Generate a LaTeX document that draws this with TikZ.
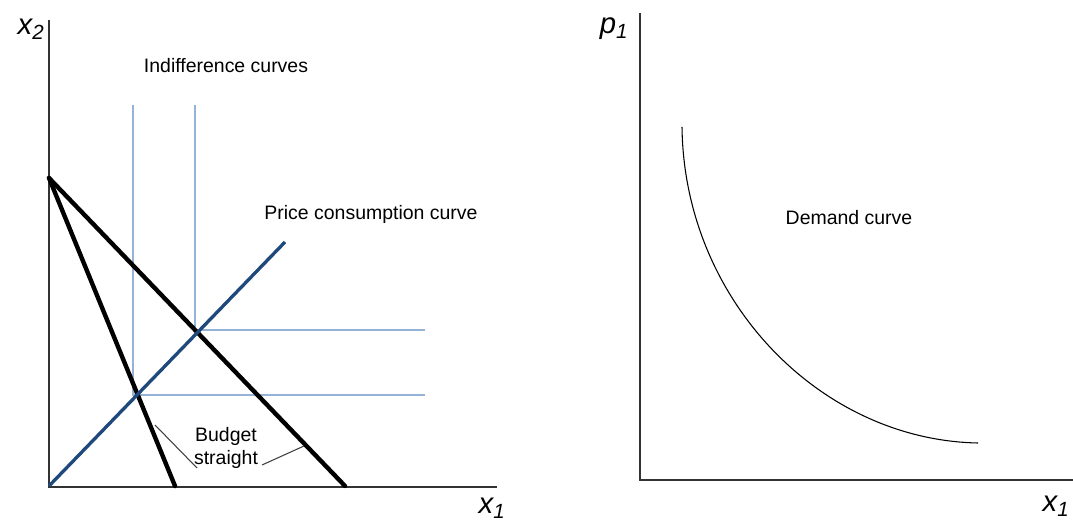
\documentclass[tikz,border=0pt]{standalone}
\usepackage{fontspec}
\setmainfont{Liberation Sans}
\begin{document}
\begin{tikzpicture}[x=0.75pt,y=-0.75pt,
  axis/.style={draw=black!80,line width=0.9pt},
  budget/.style={draw=black,line width=3.3pt},
  pcc/.style={draw={rgb,255:red,31;green,73;blue,125},line width=2.5pt},
  icurve/.style={draw={rgb,255:red,149;green,179;blue,215},line width=1.5pt},
  lbl/.style={font=\fontsize{14.6}{17}\selectfont,inner sep=0pt,align=center},
  axlbl/.style={font=\fontsize{22}{24}\selectfont\itshape,inner sep=0pt},
  leader/.style={draw=black!75,line width=0.8pt}]
\useasboundingbox (0,0) rectangle (1073,523);
% left axes
\coordinate (Otop) at (49,20);
\coordinate (O) at (49,487);
\coordinate (Oright) at (497,487);
\draw[axis] (Otop) -- (O) -- (Oright);
\node[axlbl] (x2) at (31,29) {x\textsubscript{2}};
\node[axlbl] (x1a) at (492,508) {x\textsubscript{1}};
% indifference curves
\coordinate (i1t) at (133,105);
\coordinate (i1c) at (133,395);
\coordinate (i1r) at (425,395);
\coordinate (i2t) at (195,105);
\coordinate (i2c) at (195,330);
\coordinate (i2r) at (425,330);
\draw[icurve] (i1t) -- (i1c) -- (i1r);
\draw[icurve] (i2t) -- (i2c) -- (i2r);
% budget lines
\coordinate (B) at (49,178);
\coordinate (b1) at (175,486);
\coordinate (b2) at (345,486);
\draw[budget,line cap=round] (B) -- (b1);
\draw[budget,line cap=round] (B) -- (b2);
% price consumption curve
\coordinate (p0) at (49,486);
\coordinate (p1) at (285,242);
\draw[pcc] (p0) -- (p1);
% labels
\node[lbl] (ic) at (226,66) {Indifference curves};
\node[lbl] (pc) at (371,214) {Price consumption curve};
\node[lbl] (bs) at (226,448) {Budget\\straight};
\coordinate (l1a) at (155,425);
\coordinate (l1b) at (197,468);
\coordinate (l2a) at (262,465);
\coordinate (l2b) at (304,446);
\draw[leader] (l1a) -- (l1b);
\draw[leader] (l2a) -- (l2b);
% right axes
\coordinate (Rtop) at (640,13);
\coordinate (R) at (640,480);
\coordinate (Rright) at (1073,480);
\draw[axis] (Rtop) -- (R) -- (Rright);
\node[axlbl] (p1l) at (614,29) {p\textsubscript{1}};
\node[axlbl] (x1b) at (1056,506) {x\textsubscript{1}};
% demand curve
\coordinate (d0) at (682,127);
\coordinate (d1) at (978,443);
\draw[black,line width=0.8pt] (d0) .. controls (684,300) and (820,440) .. (d1);
\node[lbl] (dc) at (849,218) {Demand curve};
\end{tikzpicture}
\end{document}
